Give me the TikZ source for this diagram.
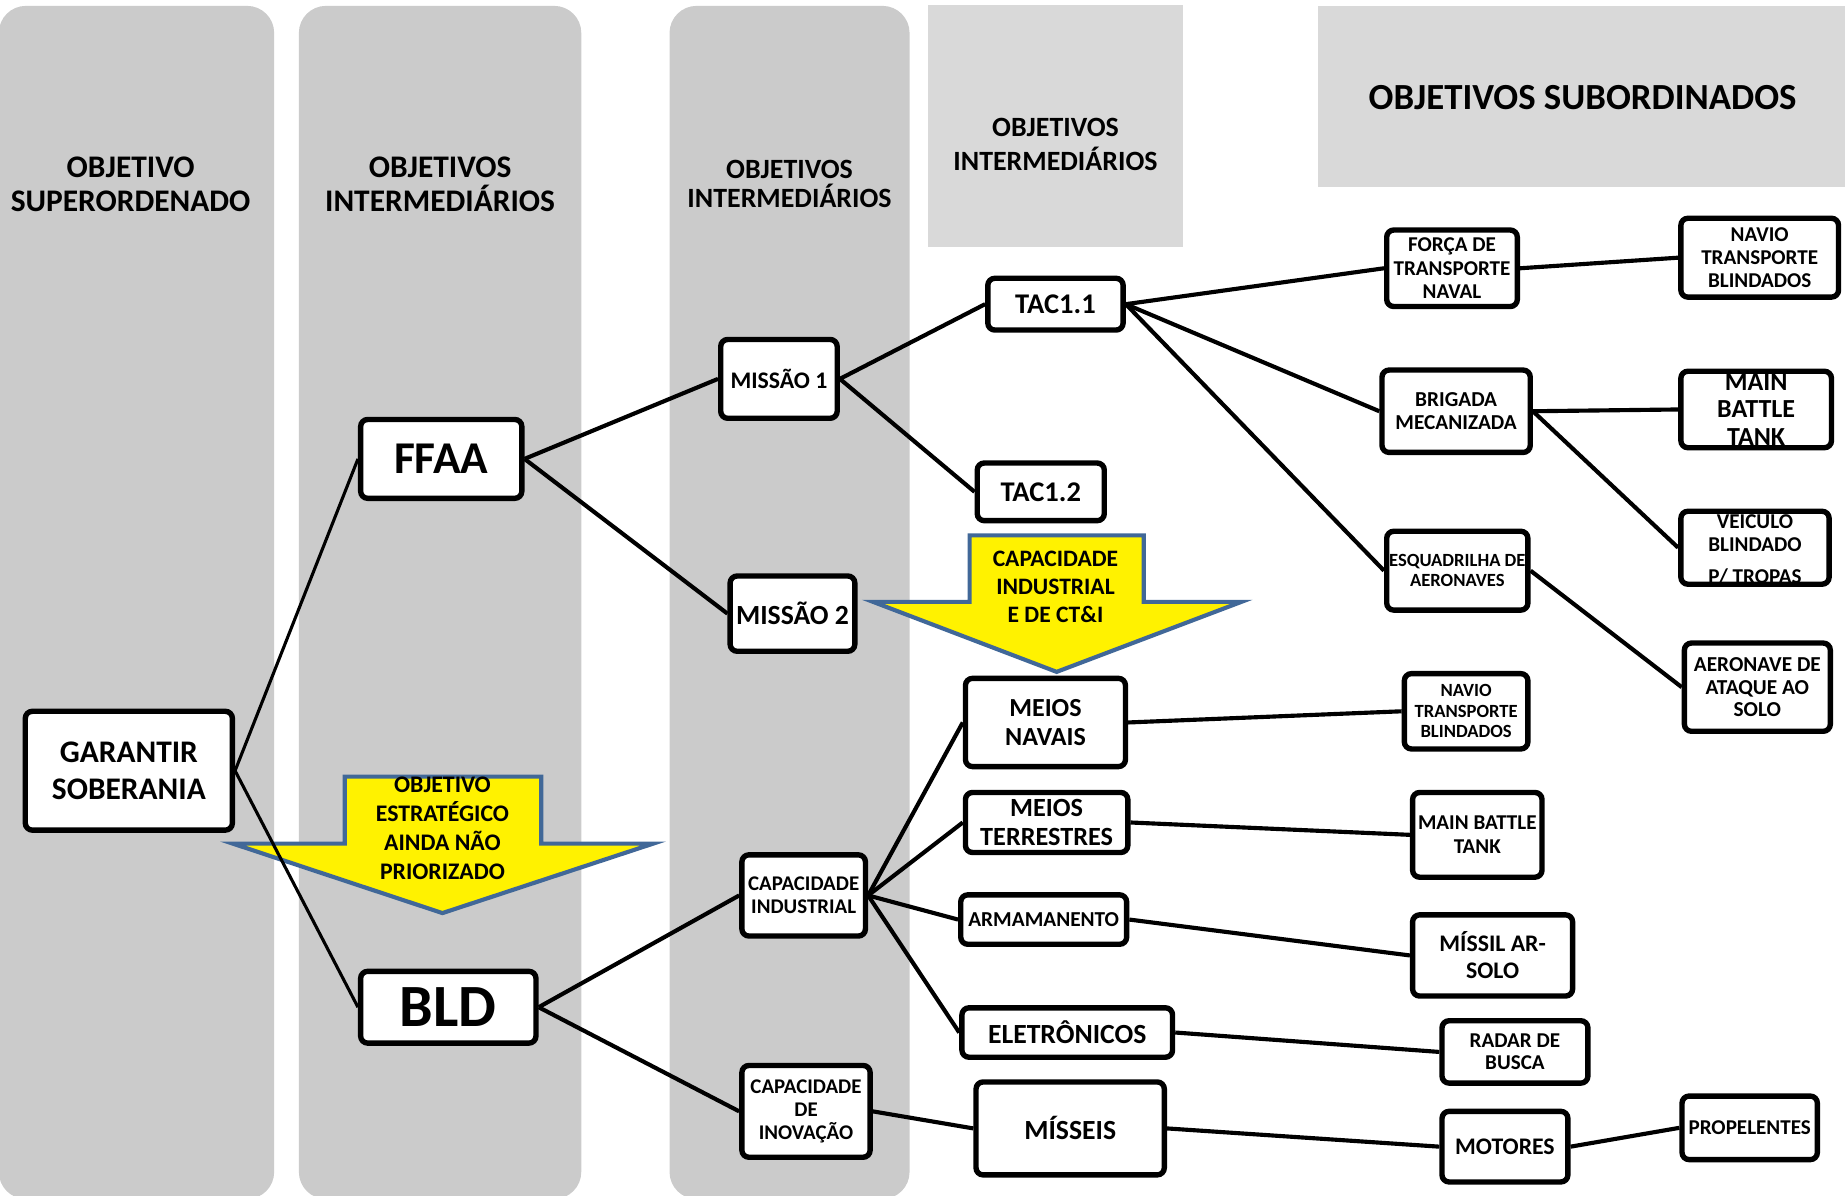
\documentclass[tikz,border=0pt]{standalone}
\usepackage{fontspec}
\setmainfont{Carlito}
\definecolor{colgray}{RGB}{203,203,203}
\definecolor{hdrgray}{RGB}{217,217,217}
\definecolor{arrowblue}{RGB}{65,104,152}
\newcommand\fsz[2]{\fontsize{#1}{#2}\selectfont\bfseries}
\tikzset{
  column/.style={fill=colgray, rounded corners=0.46cm},
  header/.style={fill=hdrgray},
  htext/.style={align=center, inner sep=0pt},
  box/.style={draw, line width=2.6pt, rounded corners=0.12cm, fill=white,
              inner sep=0pt, align=center},
  dims/.style 2 args={minimum width=#1*0.02cm-0.06cm, minimum height=#2*0.02cm-0.06cm},
  link/.style={line width=2pt},
  thinlink/.style={line width=1.5pt},
  bigarrow/.style={fill=yellow, draw=arrowblue, line width=2pt, line join=miter},
  inlabel/.style={align=center, inner sep=0pt}
}
\begin{document}
\begin{tikzpicture}[x=0.02cm, y=-0.02cm]
\useasboundingbox (0,0) rectangle (1568,1016);

% column backgrounds
\fill[column] (-1,5) rectangle (233,1019);
\fill[column] (254,5) rectangle (494,1019);
\fill[column] (569,5) rectangle (773,1019);
\fill[header] (789,4) rectangle (1005,210);
\fill[header] (1120,5) rectangle (1570,159);

% column titles
\node[htext, font=\fsz{15.2}{16.4}] (h1) at (111,156.5) {OBJETIVO\\SUPERORDENADO};
\node[htext, font=\fsz{15.2}{16.4}] (h2) at (374,156.5) {OBJETIVOS\\INTERMEDIÁRIOS};
\node[htext, font=\fsz{13.5}{14.2}] (h3) at (671,156.5) {OBJETIVOS\\INTERMEDIÁRIOS};
\node[htext, font=\fsz{13.5}{16.4}] (h4) at (897,122.5) {OBJETIVOS\\INTERMEDIÁRIOS};
\node[htext, font=\fsz{17.8}{20}] (h5) at (1345,83) {OBJETIVOS SUBORDINADOS};

% block arrows
\filldraw[bigarrow] (293,660) -- (460,660) -- (460,717) -- (555,717) -- (376,776)
  -- (198,717) -- (293,717) -- cycle;
\node[htext, font=\fsz{11.5}{14}] (a1) at (376,704)
  {OBJETIVO\\ESTRATÉGICO\\AINDA NÃO\\PRIORIZADO};
\filldraw[bigarrow] (824,455) -- (972,455) -- (972,511.5) -- (1055,511.5) -- (898,571)
  -- (742,511.5) -- (824,511.5) -- cycle;
\node[htext, font=\fsz{11.4}{13.6}] (a2) at (897,499)
  {CAPACIDADE\\INDUSTRIAL\\E DE CT\&I};

% boxes
\node[box, dims={179}{104}, font=\fsz{15.2}{17.6}] (gar) at (109.5,655) {GARANTIR\\SOBERANIA};
\node[box, dims={140}{70}, font=\fsz{22}{24}] (ffaa) at (375,390) {FFAA};
\node[box, dims={152}{64}, font=\fsz{29}{31}] (bld) at (381,856) {BLD};
\node[box, dims={102}{70}, font=\fsz{11.5}{13}] (m1) at (662,322) {MISSÃO 1};
\node[box, dims={109}{67}, font=\fsz{13.4}{15}] (m2) at (673.5,521.5) {MISSÃO 2};
\node[box, dims={108}{72}, font=\fsz{10.1}{11.3}] (capind) at (683,761) {CAPACIDADE\\INDUSTRIAL};
\node[box, dims={112}{81}, font=\fsz{10.1}{11.3}] (capinov) at (685,944.5) {CAPACIDADE\\DE\\INOVAÇÃO};
\node[box, dims={118}{47}, font=\fsz{13.8}{15}] (tac11) at (897,258.5) {TAC1.1};
\node[box, dims={111}{52}, font=\fsz{13.8}{15}] (tac12) at (884.5,418) {TAC1.2};
\node[box, dims={139}{78}, font=\fsz{12.6}{14.2}] (navais) at (888.5,614) {MEIOS\\NAVAIS};
\node[box, dims={141}{54}, font=\fsz{12.7}{14.2}] (terr) at (889.5,699) {MEIOS\\TERRESTRES};
\node[box, dims={144}{45}, font=\fsz{10.3}{12}] (arm) at (887,781.5) {ARMAMANENTO};
\node[box, dims={182}{45}, font=\fsz{13.4}{15}] (elet) at (907,877.5) {ELETRÔNICOS};
\node[box, dims={163}{82}, font=\fsz{13.4}{15}] (miss) at (909.5,959) {MÍSSEIS};
\node[box, dims={114}{68}, font=\fsz{10.2}{11.3}] (forca) at (1234,228) {FORÇA DE\\TRANSPORTE\\NAVAL};
\node[box, dims={129}{73}, font=\fsz{10.3}{11.3}] (brig) at (1237.5,349.5) {BRIGADA\\MECANIZADA};
\node[box, dims={123}{70}, font=\fsz{9}{9.6}] (esq) at (1238.5,485) {ESQUADRILHA DE\\AERONAVES};
\node[box, dims={137}{70}, font=\fsz{10.2}{11.3}] (navio1) at (1495.5,219) {NAVIO\\TRANSPORTE\\BLINDADOS};
\node[box, dims={131}{68},
      label={[inlabel, font=\fsz{12.6}{13.3}]center:MAIN\\BATTLE\\TANK}] (mbt1) at (1492.5,348) {};
\node[box, dims={129}{65},
      label={[inlabel, font=\fsz{10.2}{11.3}]center:VEÍCULO\\BLINDADO\\[4pt]P/ TROPAS}] (veic) at (1491.5,465.5) {};
\node[box, dims={127}{78}, font=\fsz{10.3}{11}] (aero) at (1493.5,584) {AERONAVE DE\\ATAQUE AO\\SOLO};
\node[box, dims={108}{67}, font=\fsz{9}{9.9}] (navio2) at (1246,604.5) {NAVIO\\TRANSPORTE\\BLINDADOS};
\node[box, dims={113}{75}, font=\fsz{10.2}{11.3}] (mbt2) at (1255.5,709.5) {MAIN BATTLE\\TANK};
\node[box, dims={139}{72}, font=\fsz{11.5}{13}] (missil) at (1268.5,812) {MÍSSIL AR-\\SOLO};
\node[box, dims={127}{56}, font=\fsz{10.2}{10.8}] (radar) at (1287.5,894) {RADAR DE\\BUSCA};
\node[box, dims={110}{63}, font=\fsz{11.5}{13}] (motores) at (1279,974.5) {MOTORES};
\node[box, dims={118}{57}, font=\fsz{10.2}{12}] (prop) at (1487,958.5) {PROPELENTES};

% connectors
\draw[thinlink] (gar.east) -- (ffaa.west);
\draw[thinlink] (gar.east) -- (bld.west);
\draw[link] (ffaa.east) -- (m1.west);
\draw[link] (ffaa.east) -- (m2.west);
\draw[link] (m1.east) -- (tac11.west);
\draw[link] (m1.east) -- (tac12.west);
\draw[link] (tac11.east) -- (forca.west);
\draw[link] (tac11.east) -- (brig.west);
\draw[link] (tac11.east) -- (esq.west);
\draw[link] (forca.east) -- (navio1.west);
\draw[link] (brig.east) -- (mbt1.west);
\draw[link] (brig.east) -- (veic.west);
\draw[link] (esq.east) -- (aero.west);
\draw[link] (bld.east) -- (capind.west);
\draw[link] (bld.east) -- (capinov.west);
\draw[link] (capind.east) -- (navais.west);
\draw[link] (capind.east) -- (terr.west);
\draw[link] (capind.east) -- (arm.west);
\draw[link] (capind.east) -- (elet.west);
\draw[link] (capinov.east) -- (miss.west);
\draw[link] (navais.east) -- (navio2.west);
\draw[link] (terr.east) -- (mbt2.west);
\draw[link] (arm.east) -- (missil.west);
\draw[link] (elet.east) -- (radar.west);
\draw[link] (miss.east) -- (motores.west);
\draw[link] (motores.east) -- (prop.west);
\end{tikzpicture}
\end{document}
